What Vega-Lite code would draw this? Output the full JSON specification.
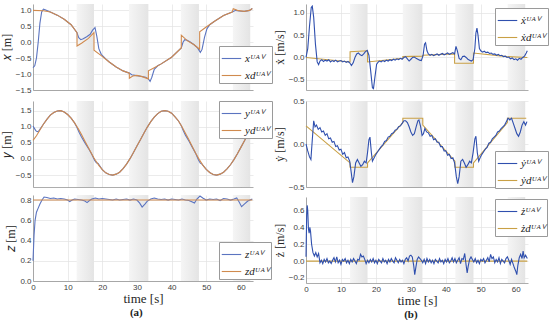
{
"$schema":"https://vega.github.io/schema/vega-lite/v6.json",
"background":"white",
"padding":{"left":0,"top":4,"right":0,"bottom":0},
"config":{
 "view":{"stroke":null},
 "axis":{"labelFont":"Liberation Sans","labelFontSize":8,"labelColor":"#404040","titleFont":"Liberation Serif","titleFontSize":12,"titleFontWeight":"normal","titleColor":"#262626","gridColor":"#e2e2e2","gridWidth":0.7,"domainColor":"#8a8a8a","domainWidth":0.7,"ticks":false,"labelPadding":2,"titlePadding":2,"labelFlush":false},
 "legend":{"orient":"none","title":null,"fillColor":"white","strokeColor":"#9a9a9a","padding":2,"symbolType":"stroke","symbolSize":380,"symbolStrokeWidth":1.3,"symbolOffset":0,"labelOffset":3,"labelFont":"Liberation Serif","labelFontSize":11,"labelFontStyle":"italic","labelColor":"#222","rowPadding":1},
 "title":{"font":"Liberation Serif","fontSize":11,"fontWeight":"bold","color":"#222","anchor":"middle"},
 "line":{"strokeWidth":1.1}
},
"datasets":{
 "bands":[{"t":12.6,"t2":17.6},{"t":27.7,"t2":33.3},{"t":42.7,"t2":47.9},{"t":57.7,"t2":62.7}],
 "xa":[{"t":0,"v":-0.8},{"t":0.5,"v":-0.74},{"t":1,"v":-0.5},{"t":1.5,"v":0},{"t":2,"v":0.6},{"t":2.5,"v":0.95},{"t":3,"v":1.04},{"t":3.5,"v":1.02},{"t":5,"v":0.95},{"t":7,"v":0.85},{"t":9,"v":0.72},{"t":11,"v":0.55},{"t":12.7,"v":0.3},{"t":13.2,"v":0.14},{"t":13.8,"v":0.08},{"t":14.5,"v":0.11},{"t":15.5,"v":0.17},{"t":16.5,"v":0.25},{"t":17.2,"v":0.38},{"t":17.9,"v":0.46},{"t":18.4,"v":0.2},{"t":19,"v":-0.2},{"t":19.7,"v":-0.38},{"t":21,"v":-0.52},{"t":22,"v":-0.62},{"t":24,"v":-0.78},{"t":26,"v":-0.9},{"t":27.8,"v":-0.97},{"t":28.5,"v":-1.02},{"t":29.5,"v":-1.04},{"t":31,"v":-1.07},{"t":32.5,"v":-1.1},{"t":33.3,"v":-1.15},{"t":33.8,"v":-1.23},{"t":34.3,"v":-1.1},{"t":35,"v":-0.85},{"t":36,"v":-0.74},{"t":37,"v":-0.68},{"t":40,"v":-0.47},{"t":42.8,"v":-0.18},{"t":43.3,"v":0},{"t":43.8,"v":0.08},{"t":44.5,"v":0.06},{"t":45.5,"v":0},{"t":46.5,"v":-0.08},{"t":47.5,"v":-0.18},{"t":48.3,"v":-0.32},{"t":48.8,"v":-0.22},{"t":49.5,"v":0.15},{"t":50.2,"v":0.42},{"t":51,"v":0.55},{"t":52.4,"v":0.66},{"t":55,"v":0.84},{"t":57.5,"v":0.95},{"t":58.5,"v":1.0},{"t":59.5,"v":0.98},{"t":61,"v":0.97},{"t":62.5,"v":1.0},{"t":63.3,"v":1.06}],
 "xd":[{"t":0,"v":1.0},{"t":3,"v":0.99},{"t":5,"v":0.95},{"t":7,"v":0.85},{"t":9,"v":0.72},{"t":11,"v":0.55},{"t":12.7,"v":0.3},{"t":12.71,"v":-0.12},{"t":14,"v":-0.03},{"t":16,"v":0.12},{"t":17.6,"v":0.3},{"t":17.61,"v":-0.25},{"t":19.7,"v":-0.42},{"t":22,"v":-0.62},{"t":24,"v":-0.78},{"t":26,"v":-0.9},{"t":27.8,"v":-0.97},{"t":27.81,"v":-1.13},{"t":28.8,"v":-1.06},{"t":30,"v":-1.04},{"t":31.5,"v":-1.08},{"t":33.3,"v":-1.15},{"t":33.31,"v":-0.9},{"t":35,"v":-0.8},{"t":37,"v":-0.68},{"t":40,"v":-0.47},{"t":42.8,"v":-0.18},{"t":42.81,"v":0.22},{"t":44.5,"v":0.05},{"t":46.5,"v":-0.08},{"t":48.1,"v":-0.22},{"t":48.11,"v":0.33},{"t":50,"v":0.48},{"t":52.4,"v":0.66},{"t":55,"v":0.84},{"t":57.5,"v":0.95},{"t":57.8,"v":1.05},{"t":59,"v":1.0},{"t":61,"v":0.97},{"t":62.5,"v":1.0},{"t":63.3,"v":1.06}],
 "ya":[{"t":0,"v":1.02},{"t":0.4,"v":0.95},{"t":0.8,"v":0.88},{"t":1.2,"v":0.85},{"t":1.6,"v":0.86},{"t":2,"v":0.92},{"t":2.5,"v":1.0},{"t":3,"v":1.08},{"t":4,"v":1.23},{"t":5,"v":1.36},{"t":6,"v":1.44},{"t":7,"v":1.49},{"t":8,"v":1.5},{"t":9,"v":1.46},{"t":10,"v":1.38},{"t":11,"v":1.27},{"t":12,"v":1.12},{"t":12.7,"v":0.98},{"t":13.3,"v":0.83},{"t":14,"v":0.68},{"t":15,"v":0.5},{"t":16,"v":0.33},{"t":17,"v":0.14},{"t":17.8,"v":-0.05},{"t":18.3,"v":-0.12},{"t":18.8,"v":-0.14},{"t":19.3,"v":-0.22},{"t":20,"v":-0.33},{"t":21,"v":-0.43},{"t":22,"v":-0.48},{"t":23,"v":-0.5},{"t":24,"v":-0.47},{"t":25,"v":-0.41},{"t":26,"v":-0.3},{"t":27,"v":-0.16},{"t":28,"v":0.01},{"t":29,"v":0.2},{"t":30,"v":0.4},{"t":31,"v":0.6},{"t":32,"v":0.8},{"t":33,"v":0.99},{"t":34,"v":1.16},{"t":35,"v":1.3},{"t":36,"v":1.41},{"t":37,"v":1.48},{"t":38,"v":1.5},{"t":39,"v":1.48},{"t":40,"v":1.42},{"t":41,"v":1.31},{"t":42,"v":1.18},{"t":42.8,"v":1.03},{"t":43.3,"v":0.9},{"t":44,"v":0.74},{"t":45,"v":0.56},{"t":46,"v":0.36},{"t":47,"v":0.16},{"t":47.8,"v":-0.04},{"t":48.3,"v":-0.13},{"t":48.8,"v":-0.16},{"t":49.3,"v":-0.23},{"t":50,"v":-0.32},{"t":51,"v":-0.42},{"t":52,"v":-0.48},{"t":53,"v":-0.5},{"t":54,"v":-0.47},{"t":55,"v":-0.41},{"t":56,"v":-0.31},{"t":57,"v":-0.18},{"t":58,"v":-0.02},{"t":59,"v":0.16},{"t":60,"v":0.36},{"t":61,"v":0.56},{"t":62,"v":0.76},{"t":63,"v":0.95}],
 "yd":[{"t":0,"v":0.58},{"t":1,"v":0.72},{"t":2,"v":0.9},{"t":3,"v":1.08},{"t":4,"v":1.23},{"t":5,"v":1.36},{"t":6,"v":1.44},{"t":7,"v":1.49},{"t":8,"v":1.5},{"t":9,"v":1.46},{"t":10,"v":1.38},{"t":11,"v":1.27},{"t":12,"v":1.12},{"t":12.7,"v":1.0},{"t":13,"v":0.95},{"t":14,"v":0.76},{"t":15,"v":0.55},{"t":16,"v":0.35},{"t":17,"v":0.15},{"t":17.6,"v":0.03},{"t":18,"v":-0.04},{"t":19,"v":-0.2},{"t":20,"v":-0.33},{"t":21,"v":-0.43},{"t":22,"v":-0.48},{"t":23,"v":-0.5},{"t":24,"v":-0.47},{"t":25,"v":-0.41},{"t":26,"v":-0.3},{"t":27,"v":-0.16},{"t":28,"v":0.01},{"t":29,"v":0.2},{"t":30,"v":0.4},{"t":31,"v":0.6},{"t":32,"v":0.8},{"t":33,"v":0.99},{"t":34,"v":1.16},{"t":35,"v":1.3},{"t":36,"v":1.41},{"t":37,"v":1.48},{"t":38,"v":1.5},{"t":39,"v":1.48},{"t":40,"v":1.42},{"t":41,"v":1.31},{"t":42,"v":1.18},{"t":43,"v":1.0},{"t":44,"v":0.8},{"t":45,"v":0.6},{"t":46,"v":0.38},{"t":47,"v":0.17},{"t":48,"v":-0.02},{"t":49,"v":-0.19},{"t":50,"v":-0.32},{"t":51,"v":-0.42},{"t":52,"v":-0.48},{"t":53,"v":-0.5},{"t":54,"v":-0.47},{"t":55,"v":-0.41},{"t":56,"v":-0.31},{"t":57,"v":-0.18},{"t":58,"v":-0.02},{"t":59,"v":0.16},{"t":60,"v":0.36},{"t":61,"v":0.56},{"t":62,"v":0.76},{"t":63,"v":0.95}],
 "za":[{"t":0,"v":0.2},{"t":0.3,"v":0.45},{"t":0.6,"v":0.6},{"t":1,"v":0.68},{"t":1.5,"v":0.72},{"t":2,"v":0.76},{"t":2.6,"v":0.8},{"t":3.2,"v":0.83},{"t":4,"v":0.825},{"t":5,"v":0.815},{"t":6,"v":0.82},{"t":7,"v":0.81},{"t":8,"v":0.815},{"t":9,"v":0.81},{"t":10,"v":0.8},{"t":10.6,"v":0.785},{"t":11.3,"v":0.8},{"t":12,"v":0.81},{"t":13,"v":0.805},{"t":14,"v":0.8},{"t":15,"v":0.79},{"t":15.6,"v":0.775},{"t":16.3,"v":0.795},{"t":17,"v":0.81},{"t":18,"v":0.82},{"t":19,"v":0.81},{"t":20,"v":0.815},{"t":21,"v":0.81},{"t":22,"v":0.805},{"t":23,"v":0.8},{"t":24,"v":0.81},{"t":25,"v":0.8},{"t":26,"v":0.805},{"t":27,"v":0.81},{"t":28,"v":0.8},{"t":29,"v":0.81},{"t":30,"v":0.8},{"t":30.8,"v":0.77},{"t":31.5,"v":0.73},{"t":32.3,"v":0.76},{"t":33,"v":0.79},{"t":34,"v":0.81},{"t":35,"v":0.82},{"t":36,"v":0.81},{"t":37,"v":0.805},{"t":38,"v":0.81},{"t":39,"v":0.8},{"t":40,"v":0.81},{"t":41,"v":0.805},{"t":42,"v":0.8},{"t":43,"v":0.81},{"t":44,"v":0.8},{"t":45,"v":0.795},{"t":46,"v":0.78},{"t":46.6,"v":0.77},{"t":47.3,"v":0.81},{"t":48.2,"v":0.84},{"t":49,"v":0.82},{"t":50,"v":0.8},{"t":51,"v":0.81},{"t":52,"v":0.805},{"t":53,"v":0.81},{"t":54,"v":0.795},{"t":55,"v":0.815},{"t":56,"v":0.81},{"t":57,"v":0.8},{"t":58,"v":0.81},{"t":58.8,"v":0.82},{"t":59.5,"v":0.78},{"t":60.2,"v":0.735},{"t":61,"v":0.76},{"t":62,"v":0.79},{"t":63.3,"v":0.81}],
 "zd":[{"t":0,"v":0.8},{"t":63.3,"v":0.8}],
 "vxa":[{"t":0,"v":0},{"t":0.5,"v":0.2},{"t":1,"v":0.7},{"t":1.5,"v":1.12},{"t":1.8,"v":1.15},{"t":2.2,"v":0.9},{"t":2.7,"v":0.3},{"t":3.2,"v":-0.1},{"t":3.6,"v":-0.16},{"t":4,"v":-0.08},{"t":4.5,"v":-0.05},{"t":5,"v":-0.09},{"t":5.5,"v":-0.06},{"t":6,"v":-0.08},{"t":6.5,"v":-0.05},{"t":7,"v":-0.1},{"t":7.5,"v":-0.07},{"t":8,"v":-0.09},{"t":8.5,"v":-0.06},{"t":9,"v":-0.1},{"t":9.5,"v":-0.08},{"t":10,"v":-0.07},{"t":10.5,"v":-0.1},{"t":11,"v":-0.08},{"t":11.5,"v":-0.11},{"t":12,"v":-0.09},{"t":12.5,"v":-0.12},{"t":13,"v":-0.18},{"t":13.5,"v":-0.12},{"t":14,"v":0},{"t":14.5,"v":0.08},{"t":15,"v":0.1},{"t":15.5,"v":0.06},{"t":16,"v":0.04},{"t":16.5,"v":0.08},{"t":17,"v":0.13},{"t":17.5,"v":0.16},{"t":18,"v":0.05},{"t":18.5,"v":-0.3},{"t":19,"v":-0.68},{"t":19.3,"v":-0.7},{"t":19.7,"v":-0.45},{"t":20.2,"v":-0.15},{"t":20.7,"v":-0.1},{"t":21,"v":-0.08},{"t":21.5,"v":-0.1},{"t":22,"v":-0.07},{"t":22.5,"v":-0.09},{"t":23,"v":-0.06},{"t":23.5,"v":-0.08},{"t":24,"v":-0.05},{"t":24.5,"v":-0.07},{"t":25,"v":-0.04},{"t":25.5,"v":-0.06},{"t":26,"v":-0.03},{"t":26.5,"v":-0.05},{"t":27,"v":-0.02},{"t":27.5,"v":-0.04},{"t":28,"v":0},{"t":28.5,"v":0.02},{"t":29,"v":-0.03},{"t":29.5,"v":-0.08},{"t":30,"v":-0.04},{"t":30.5,"v":0},{"t":31,"v":0.01},{"t":31.5,"v":-0.02},{"t":32,"v":-0.04},{"t":32.5,"v":-0.06},{"t":33,"v":-0.07},{"t":33.5,"v":0.05},{"t":33.9,"v":0.3},{"t":34.2,"v":0.33},{"t":34.6,"v":0.15},{"t":35,"v":0.08},{"t":35.5,"v":0.05},{"t":36,"v":0.07},{"t":36.5,"v":0.04},{"t":37,"v":0.06},{"t":37.5,"v":0.08},{"t":38,"v":0.05},{"t":38.5,"v":0.07},{"t":39,"v":0.09},{"t":39.5,"v":0.06},{"t":40,"v":0.08},{"t":40.5,"v":0.1},{"t":41,"v":0.07},{"t":41.5,"v":0.09},{"t":42,"v":0.11},{"t":42.5,"v":0.08},{"t":42.9,"v":0.25},{"t":43.3,"v":0.15},{"t":43.8,"v":-0.02},{"t":44.3,"v":-0.05},{"t":44.8,"v":0.02},{"t":45.3,"v":0.03},{"t":45.8,"v":0},{"t":46.3,"v":-0.04},{"t":46.8,"v":-0.06},{"t":47.3,"v":-0.08},{"t":47.8,"v":-0.05},{"t":48.3,"v":0.2},{"t":48.6,"v":0.55},{"t":48.9,"v":0.66},{"t":49.2,"v":0.5},{"t":49.6,"v":0.2},{"t":50,"v":0.15},{"t":50.5,"v":0.12},{"t":51,"v":0.14},{"t":51.5,"v":0.11},{"t":52,"v":0.12},{"t":52.5,"v":0.09},{"t":53,"v":0.1},{"t":53.5,"v":0.07},{"t":54,"v":0.08},{"t":54.5,"v":0.05},{"t":55,"v":0.07},{"t":55.5,"v":0.04},{"t":56,"v":0.05},{"t":56.5,"v":0.02},{"t":57,"v":0.03},{"t":57.5,"v":0},{"t":58,"v":0.01},{"t":58.5,"v":-0.03},{"t":59,"v":-0.01},{"t":59.5,"v":-0.05},{"t":60,"v":-0.03},{"t":60.5,"v":-0.06},{"t":61,"v":-0.02},{"t":61.5,"v":-0.04},{"t":62,"v":0},{"t":62.5,"v":0.03},{"t":63,"v":0.1},{"t":63.3,"v":0.15}],
 "vxd":[{"t":0,"v":0},{"t":12.6,"v":-0.1},{"t":12.61,"v":0.13},{"t":17.6,"v":0.15},{"t":17.61,"v":-0.1},{"t":27.7,"v":-0.02},{"t":27.71,"v":0.02},{"t":33.4,"v":0.03},{"t":33.41,"v":0.05},{"t":42.5,"v":0.08},{"t":42.51,"v":-0.13},{"t":47.9,"v":-0.13},{"t":47.91,"v":0.1},{"t":57.5,"v":0.02},{"t":63.3,"v":0}],
 "vya":[{"t":0,"v":0},{"t":0.5,"v":-0.08},{"t":1,"v":-0.15},{"t":1.4,"v":-0.18},{"t":1.8,"v":0.05},{"t":2.2,"v":0.27},{"t":2.6,"v":0.2},{"t":3,"v":0.22},{"t":3.5,"v":0.17},{"t":4,"v":0.19},{"t":4.5,"v":0.14},{"t":5,"v":0.15},{"t":5.5,"v":0.1},{"t":6,"v":0.12},{"t":6.5,"v":0.06},{"t":7,"v":0.07},{"t":7.5,"v":0.02},{"t":8,"v":0.03},{"t":8.5,"v":-0.03},{"t":9,"v":-0.02},{"t":9.5,"v":-0.07},{"t":10,"v":-0.06},{"t":10.5,"v":-0.12},{"t":11,"v":-0.1},{"t":11.5,"v":-0.16},{"t":12,"v":-0.15},{"t":12.5,"v":-0.2},{"t":13,"v":-0.35},{"t":13.3,"v":-0.45},{"t":13.7,"v":-0.38},{"t":14.2,"v":-0.22},{"t":14.7,"v":-0.18},{"t":15.2,"v":-0.22},{"t":15.7,"v":-0.26},{"t":16.2,"v":-0.24},{"t":16.7,"v":-0.2},{"t":17.2,"v":-0.22},{"t":17.6,"v":-0.1},{"t":18,"v":0.05},{"t":18.3,"v":0.08},{"t":18.7,"v":-0.1},{"t":19,"v":-0.2},{"t":19.5,"v":-0.16},{"t":20,"v":-0.12},{"t":20.5,"v":-0.09},{"t":21,"v":-0.06},{"t":21.5,"v":-0.03},{"t":22,"v":-0.01},{"t":22.5,"v":0.03},{"t":23,"v":0.04},{"t":23.5,"v":0.08},{"t":24,"v":0.09},{"t":24.5,"v":0.12},{"t":25,"v":0.13},{"t":25.5,"v":0.16},{"t":26,"v":0.17},{"t":26.5,"v":0.2},{"t":27,"v":0.21},{"t":27.5,"v":0.24},{"t":28,"v":0.27},{"t":28.5,"v":0.27},{"t":29,"v":0.25},{"t":29.5,"v":0.2},{"t":30,"v":0.14},{"t":30.5,"v":0.1},{"t":31,"v":0.12},{"t":31.5,"v":0.2},{"t":32,"v":0.27},{"t":32.3,"v":0.28},{"t":32.8,"v":0.2},{"t":33.2,"v":0.1},{"t":33.6,"v":0.12},{"t":34,"v":0.18},{"t":34.5,"v":0.14},{"t":35,"v":0.13},{"t":35.5,"v":0.09},{"t":36,"v":0.1},{"t":36.5,"v":0.05},{"t":37,"v":0.06},{"t":37.5,"v":0.02},{"t":38,"v":0.02},{"t":38.5,"v":-0.03},{"t":39,"v":-0.03},{"t":39.5,"v":-0.08},{"t":40,"v":-0.08},{"t":40.5,"v":-0.13},{"t":41,"v":-0.12},{"t":41.5,"v":-0.17},{"t":42,"v":-0.16},{"t":42.5,"v":-0.22},{"t":43,"v":-0.38},{"t":43.4,"v":-0.46},{"t":43.8,"v":-0.38},{"t":44.3,"v":-0.2},{"t":44.8,"v":-0.18},{"t":45.3,"v":-0.22},{"t":45.8,"v":-0.27},{"t":46.3,"v":-0.24},{"t":46.8,"v":-0.2},{"t":47.3,"v":-0.22},{"t":47.8,"v":-0.1},{"t":48.3,"v":0.06},{"t":48.6,"v":0.09},{"t":49,"v":-0.1},{"t":49.4,"v":-0.2},{"t":49.8,"v":-0.16},{"t":50.3,"v":-0.12},{"t":50.8,"v":-0.09},{"t":51.3,"v":-0.06},{"t":51.8,"v":-0.04},{"t":52.3,"v":0.01},{"t":52.8,"v":0.02},{"t":53.3,"v":0.06},{"t":53.8,"v":0.08},{"t":54.3,"v":0.1},{"t":54.8,"v":0.14},{"t":55.3,"v":0.15},{"t":55.8,"v":0.18},{"t":56.3,"v":0.2},{"t":56.8,"v":0.22},{"t":57.3,"v":0.26},{"t":57.8,"v":0.3},{"t":58.3,"v":0.28},{"t":58.8,"v":0.3},{"t":59.3,"v":0.24},{"t":59.8,"v":0.18},{"t":60.3,"v":0.12},{"t":60.8,"v":0.09},{"t":61.3,"v":0.14},{"t":61.8,"v":0.22},{"t":62.3,"v":0.26},{"t":62.8,"v":0.22},{"t":63.2,"v":0.26}],
 "vyd":[{"t":0,"v":0.21},{"t":12.6,"v":-0.22},{"t":12.61,"v":-0.27},{"t":17.6,"v":-0.27},{"t":17.61,"v":-0.22},{"t":27.7,"v":0.25},{"t":27.71,"v":0.3},{"t":33.4,"v":0.3},{"t":33.41,"v":0.22},{"t":42.6,"v":-0.2},{"t":42.61,"v":-0.27},{"t":47.9,"v":-0.27},{"t":47.91,"v":-0.22},{"t":57.6,"v":0.25},{"t":57.61,"v":0.3},{"t":63,"v":0.3}],
 "vza":[{"t":0,"v":0.05},{"t":0.2,"v":0.55},{"t":0.35,"v":0.66},{"t":0.5,"v":0.6},{"t":0.7,"v":0.38},{"t":0.9,"v":0.33},{"t":1.1,"v":0.4},{"t":1.3,"v":0.35},{"t":1.6,"v":0.2},{"t":2,"v":0.1},{"t":2.4,"v":0.06},{"t":2.8,"v":0.1},{"t":3.2,"v":0.05},{"t":3.6,"v":0.09},{"t":4,"v":-0.02},{"t":4.4,"v":0.01},{"t":4.8,"v":-0.03},{"t":5.2,"v":0.02},{"t":5.6,"v":-0.01},{"t":6,"v":0.03},{"t":6.4,"v":-0.02},{"t":6.8,"v":0},{"t":7.2,"v":-0.03},{"t":7.6,"v":0.01},{"t":8,"v":0.04},{"t":8.4,"v":-0.01},{"t":8.8,"v":0.05},{"t":9.2,"v":-0.02},{"t":9.6,"v":0.01},{"t":10,"v":-0.04},{"t":10.4,"v":0.02},{"t":10.8,"v":0},{"t":11.2,"v":0.03},{"t":11.6,"v":-0.02},{"t":12,"v":0.01},{"t":12.4,"v":-0.03},{"t":12.8,"v":0.02},{"t":13.2,"v":-0.01},{"t":13.6,"v":0.03},{"t":14,"v":0},{"t":14.4,"v":-0.03},{"t":14.8,"v":0.02},{"t":15.2,"v":0.01},{"t":15.6,"v":0.08},{"t":16,"v":0.05},{"t":16.4,"v":0.06},{"t":16.8,"v":0.02},{"t":17.2,"v":-0.03},{"t":17.6,"v":0.01},{"t":18,"v":-0.02},{"t":18.4,"v":0.02},{"t":18.8,"v":-0.01},{"t":19.2,"v":0.03},{"t":19.6,"v":-0.02},{"t":20,"v":0.01},{"t":20.4,"v":-0.03},{"t":20.8,"v":0.02},{"t":21.2,"v":0},{"t":21.6,"v":-0.02},{"t":22,"v":0.03},{"t":22.4,"v":-0.01},{"t":22.8,"v":0.01},{"t":23.2,"v":-0.03},{"t":23.6,"v":0.02},{"t":24,"v":-0.01},{"t":24.4,"v":0.03},{"t":24.8,"v":0},{"t":25.2,"v":-0.02},{"t":25.6,"v":0.04},{"t":26,"v":0.01},{"t":26.4,"v":-0.02},{"t":26.8,"v":0.02},{"t":27.2,"v":-0.01},{"t":27.6,"v":0.01},{"t":28,"v":-0.03},{"t":28.4,"v":0.02},{"t":28.8,"v":0.04},{"t":29.2,"v":0},{"t":29.6,"v":0.06},{"t":30,"v":0.07},{"t":30.4,"v":0.05},{"t":30.8,"v":-0.05},{"t":31.1,"v":-0.16},{"t":31.4,"v":-0.08},{"t":31.8,"v":0.02},{"t":32.2,"v":0.05},{"t":32.6,"v":0.03},{"t":33,"v":0.01},{"t":33.4,"v":-0.02},{"t":33.8,"v":0.02},{"t":34.2,"v":-0.03},{"t":34.6,"v":0.03},{"t":35,"v":-0.01},{"t":35.4,"v":0.02},{"t":35.8,"v":-0.02},{"t":36.2,"v":0.01},{"t":36.6,"v":-0.03},{"t":37,"v":0.02},{"t":37.4,"v":0},{"t":37.8,"v":-0.02},{"t":38.2,"v":0.03},{"t":38.6,"v":-0.01},{"t":39,"v":0.01},{"t":39.4,"v":-0.03},{"t":39.8,"v":0.02},{"t":40.2,"v":-0.01},{"t":40.6,"v":0.03},{"t":41,"v":-0.02},{"t":41.4,"v":0},{"t":41.8,"v":0.04},{"t":42.2,"v":-0.01},{"t":42.6,"v":0.03},{"t":43,"v":-0.02},{"t":43.4,"v":0.01},{"t":43.8,"v":0.04},{"t":44.2,"v":-0.03},{"t":44.6,"v":0.03},{"t":45,"v":0.02},{"t":45.4,"v":0.09},{"t":45.8,"v":-0.05},{"t":46.1,"v":-0.14},{"t":46.4,"v":-0.06},{"t":46.8,"v":0.02},{"t":47.2,"v":0.05},{"t":47.6,"v":0.02},{"t":48,"v":-0.01},{"t":48.4,"v":0.03},{"t":48.8,"v":-0.02},{"t":49.2,"v":0.01},{"t":49.6,"v":-0.03},{"t":50,"v":0.02},{"t":50.4,"v":0},{"t":50.8,"v":0.03},{"t":51.2,"v":-0.02},{"t":51.6,"v":0.01},{"t":52,"v":0.04},{"t":52.4,"v":-0.01},{"t":52.8,"v":0.08},{"t":53.2,"v":0.03},{"t":53.6,"v":0.05},{"t":54,"v":-0.02},{"t":54.4,"v":0.02},{"t":54.8,"v":-0.01},{"t":55.2,"v":0.04},{"t":55.6,"v":-0.03},{"t":56,"v":0.02},{"t":56.4,"v":0},{"t":56.8,"v":-0.02},{"t":57.2,"v":0.03},{"t":57.6,"v":0.05},{"t":58,"v":0.01},{"t":58.4,"v":-0.04},{"t":58.8,"v":0.02},{"t":59.2,"v":-0.03},{"t":59.6,"v":-0.08},{"t":60,"v":-0.12},{"t":60.3,"v":-0.16},{"t":60.6,"v":-0.05},{"t":61,"v":0.04},{"t":61.4,"v":0.08},{"t":61.8,"v":0.03},{"t":62.1,"v":0.12},{"t":62.4,"v":0.04},{"t":62.8,"v":0.07},{"t":63.3,"v":0.03}],
 "vzd":[{"t":0,"v":0},{"t":63.3,"v":0}]
},
"hconcat":[
 {"title":{"text":"(a)","orient":"bottom","offset":2,"anchor":"middle"},
  "spacing":6,
  "resolve":{"scale":{"color":"independent"},"legend":{"color":"independent"}},
  "vconcat":[
  {"width":220,"height":86,
   "encoding":{"x":{"field":"t","type":"quantitative","scale":{"domain":[0,63.5],"nice":false},"axis":{"values":[0,10,20,30,40,50,60],"labels":false,"title":null}}},
   "layer":[
    {"data":{"name":"bands"},"mark":{"type":"rect","color":{"gradient":"linear","x1":0,"y1":0,"x2":1,"y2":0,"stops":[{"offset":0,"color":"#f5f5f5"},{"offset":1,"color":"#e4e4e4"}]}},"encoding":{"x2":{"field":"t2"}}},
    {"data":{"name":"xa"},"mark":"line","encoding":{"y":{"field":"v","type":"quantitative","scale":{"domain":[-1.5,1.2],"nice":false,"zero":false},"axis":{"values":[-1.5,-1,-0.5,0,0.5,1],"title":"𝑥 [m]"}},"color":{"datum":"a","type":"nominal","scale":{"domain":["a","d"],"range":["#5b74c0","#d08a4e"]},"legend":{"legendX":186,"legendY":42,"labelExpr":"datum.label=='a'?'xᵁᴬⱽ':'xdᵁᴬⱽ'"}}}},
    {"data":{"name":"xd"},"mark":"line","encoding":{"y":{"field":"v","type":"quantitative","scale":{"domain":[-1.5,1.2],"nice":false,"zero":false},"axis":{"values":[-1.5,-1,-0.5,0,0.5,1],"title":"𝑥 [m]"}},"color":{"datum":"d","type":"nominal","scale":{"domain":["a","d"],"range":["#5b74c0","#d08a4e"]}}}}
   ]},
  {"width":220,"height":86,
   "encoding":{"x":{"field":"t","type":"quantitative","scale":{"domain":[0,63.5],"nice":false},"axis":{"values":[0,10,20,30,40,50,60],"labels":false,"title":null}}},
   "layer":[
    {"data":{"name":"bands"},"mark":{"type":"rect","color":{"gradient":"linear","x1":0,"y1":0,"x2":1,"y2":0,"stops":[{"offset":0,"color":"#f5f5f5"},{"offset":1,"color":"#e4e4e4"}]}},"encoding":{"x2":{"field":"t2"}}},
    {"data":{"name":"ya"},"mark":"line","encoding":{"y":{"field":"v","type":"quantitative","scale":{"domain":[-0.87,1.8],"nice":false,"zero":false},"axis":{"values":[-0.5,0,0.5,1,1.5],"title":"𝑦 [m]"}},"color":{"datum":"a","type":"nominal","scale":{"domain":["a","d"],"range":["#5b74c0","#d08a4e"]},"legend":{"legendX":186,"legendY":0,"labelExpr":"datum.label=='a'?'yᵁᴬⱽ':'ydᵁᴬⱽ'"}}}},
    {"data":{"name":"yd"},"mark":"line","encoding":{"y":{"field":"v","type":"quantitative","scale":{"domain":[-0.87,1.8],"nice":false,"zero":false},"axis":{"values":[-0.5,0,0.5,1,1.5],"title":"𝑦 [m]"}},"color":{"datum":"d","type":"nominal","scale":{"domain":["a","d"],"range":["#5b74c0","#d08a4e"]}}}}
   ]},
  {"width":220,"height":86,
   "encoding":{"x":{"field":"t","type":"quantitative","scale":{"domain":[0,63.5],"nice":false},"axis":{"values":[0,10,20,30,40,50,60],"title":"time [s]","titleFontSize":13,"titlePadding":1}}},
   "layer":[
    {"data":{"name":"bands"},"mark":{"type":"rect","color":{"gradient":"linear","x1":0,"y1":0,"x2":1,"y2":0,"stops":[{"offset":0,"color":"#f5f5f5"},{"offset":1,"color":"#e4e4e4"}]}},"encoding":{"x2":{"field":"t2"}}},
    {"data":{"name":"za"},"mark":"line","encoding":{"y":{"field":"v","type":"quantitative","scale":{"domain":[0,0.85],"nice":false},"axis":{"values":[0,0.2,0.4,0.6,0.8],"title":"𝑧 [m]"}},"color":{"datum":"a","type":"nominal","scale":{"domain":["a","d"],"range":["#5b74c0","#d08a4e"]},"legend":{"legendX":186,"legendY":47,"labelExpr":"datum.label=='a'?'zᵁᴬⱽ':'zdᵁᴬⱽ'"}}}},
    {"data":{"name":"zd"},"mark":"line","encoding":{"y":{"field":"v","type":"quantitative","scale":{"domain":[0,0.85],"nice":false},"axis":{"values":[0,0.2,0.4,0.6,0.8],"title":"𝑧 [m]"}},"color":{"datum":"d","type":"nominal","scale":{"domain":["a","d"],"range":["#5b74c0","#d08a4e"]}}}}
   ]}
 ]},
 {"title":{"text":"(b)","orient":"bottom","offset":2,"anchor":"middle"},
  "spacing":6,
  "resolve":{"scale":{"color":"independent"},"legend":{"color":"independent"}},
  "vconcat":[
  {"width":222,"height":86,
   "encoding":{"x":{"field":"t","type":"quantitative","scale":{"domain":[0,63.5],"nice":false},"axis":{"values":[0,10,20,30,40,50,60],"labels":false,"title":null}}},
   "layer":[
    {"data":{"name":"bands"},"mark":{"type":"rect","color":{"gradient":"linear","x1":0,"y1":0,"x2":1,"y2":0,"stops":[{"offset":0,"color":"#f5f5f5"},{"offset":1,"color":"#e4e4e4"}]}},"encoding":{"x2":{"field":"t2"}}},
    {"data":{"name":"vxd"},"mark":"line","encoding":{"y":{"field":"v","type":"quantitative","scale":{"domain":[-0.73,1.2],"nice":false,"zero":false},"axis":{"values":[-0.5,0,0.5,1],"title":"ẋ [m/s]"}},"color":{"datum":"d","type":"nominal","scale":{"domain":["a","d"],"range":["#2f4fae","#c9a045"]},"legend":{"legendX":189,"legendY":4,"labelExpr":"datum.label=='a'?'ẋᵁᴬⱽ':'ẋdᵁᴬⱽ'"}}}},
    {"data":{"name":"vxa"},"mark":"line","encoding":{"y":{"field":"v","type":"quantitative","scale":{"domain":[-0.73,1.2],"nice":false,"zero":false},"axis":{"values":[-0.5,0,0.5,1],"title":"ẋ [m/s]"}},"color":{"datum":"a","type":"nominal","scale":{"domain":["a","d"],"range":["#2f4fae","#c9a045"]}}}}
   ]},
  {"width":222,"height":86,
   "encoding":{"x":{"field":"t","type":"quantitative","scale":{"domain":[0,63.5],"nice":false},"axis":{"values":[0,10,20,30,40,50,60],"labels":false,"title":null}}},
   "layer":[
    {"data":{"name":"bands"},"mark":{"type":"rect","color":{"gradient":"linear","x1":0,"y1":0,"x2":1,"y2":0,"stops":[{"offset":0,"color":"#f5f5f5"},{"offset":1,"color":"#e4e4e4"}]}},"encoding":{"x2":{"field":"t2"}}},
    {"data":{"name":"vyd"},"mark":"line","encoding":{"y":{"field":"v","type":"quantitative","scale":{"domain":[-0.5,0.5],"nice":false},"axis":{"values":[-0.5,0,0.5],"title":"ẏ [m/s]"}},"color":{"datum":"d","type":"nominal","scale":{"domain":["a","d"],"range":["#2f4fae","#c9a045"]},"legend":{"legendX":189,"legendY":50,"labelExpr":"datum.label=='a'?'ẏᵁᴬⱽ':'ẏdᵁᴬⱽ'"}}}},
    {"data":{"name":"vya"},"mark":"line","encoding":{"y":{"field":"v","type":"quantitative","scale":{"domain":[-0.5,0.5],"nice":false},"axis":{"values":[-0.5,0,0.5],"title":"ẏ [m/s]"}},"color":{"datum":"a","type":"nominal","scale":{"domain":["a","d"],"range":["#2f4fae","#c9a045"]}}}}
   ]},
  {"width":222,"height":86,
   "encoding":{"x":{"field":"t","type":"quantitative","scale":{"domain":[0,63.5],"nice":false},"axis":{"values":[0,10,20,30,40,50,60],"title":"time [s]","titleFontSize":13,"titlePadding":1}}},
   "layer":[
    {"data":{"name":"bands"},"mark":{"type":"rect","color":{"gradient":"linear","x1":0,"y1":0,"x2":1,"y2":0,"stops":[{"offset":0,"color":"#f5f5f5"},{"offset":1,"color":"#e4e4e4"}]}},"encoding":{"x2":{"field":"t2"}}},
    {"data":{"name":"vzd"},"mark":"line","encoding":{"y":{"field":"v","type":"quantitative","scale":{"domain":[-0.26,0.76],"nice":false,"zero":false},"axis":{"values":[-0.2,0,0.2,0.4,0.6],"title":"ż [m/s]"}},"color":{"datum":"d","type":"nominal","scale":{"domain":["a","d"],"range":["#2f4fae","#c9a045"]},"legend":{"legendX":189,"legendY":2,"labelExpr":"datum.label=='a'?'żᵁᴬⱽ':'żdᵁᴬⱽ'"}}}},
    {"data":{"name":"vza"},"mark":"line","encoding":{"y":{"field":"v","type":"quantitative","scale":{"domain":[-0.26,0.76],"nice":false,"zero":false},"axis":{"values":[-0.2,0,0.2,0.4,0.6],"title":"ż [m/s]"}},"color":{"datum":"a","type":"nominal","scale":{"domain":["a","d"],"range":["#2f4fae","#c9a045"]}}}}
   ]}
 ]}
],
"spacing":0,
"resolve":{"scale":{"color":"independent"},"legend":{"color":"independent"}}
}
